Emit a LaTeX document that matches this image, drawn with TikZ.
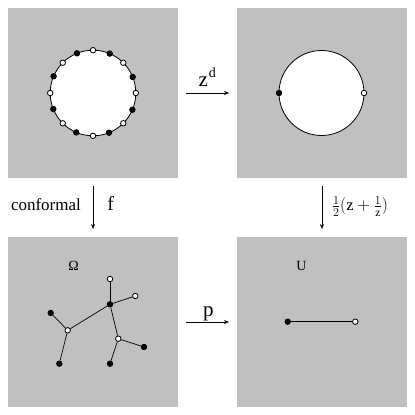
\documentclass[tikz,border=0pt]{standalone}
\usepackage{fontspec}
\setmainfont{Liberation Serif}
\usetikzlibrary{arrows.meta}
\definecolor{panel}{RGB}{192,192,192}
\tikzset{
  panelbox/.style={fill=panel, draw=none, minimum size=170pt, inner sep=0pt, outer sep=0pt},
  disk/.style={circle, draw=black, fill=white, line width=0.8pt, inner sep=0pt, outer sep=0pt},
  opendot/.style={circle, draw=black, fill=white, line width=0.8pt, inner sep=0pt, minimum size=5.5pt},
  fulldot/.style={circle, draw=black, fill=black, line width=0.8pt, inner sep=0pt, minimum size=5.5pt},
  maparrow/.style={-{Stealth[length=5pt,width=4pt]}, line width=0.7pt, shorten <=8pt, shorten >=8pt},
  edge/.style={line width=0.7pt},
  lbl/.style={inner sep=0pt, outer sep=0pt},
  bigfont/.style={font=\fontsize{21}{25}\selectfont},
  midfont/.style={font=\fontsize{17}{20}\selectfont},
  ffont/.style={font=\fontsize{20}{24}\selectfont},
  smallfont/.style={font=\fontsize{14}{16}\selectfont}
}
\begin{document}
\begin{tikzpicture}[x=1pt,y=-1pt]
\useasboundingbox (0,0) rectangle (415,415);
% panels
\node[panelbox] (TL) at (93,93) {};
\node[panelbox] (TR) at (322,93) {};
\node[panelbox] (BL) at (93,322) {};
\node[panelbox] (BR) at (322,322) {};
% top-left circle with 16 points
\node[disk, minimum size=85.6pt] (C1) at (93,93) {};
\foreach \a in {0,45,...,315} {
  \node[opendot] (o\a) at (C1.\a) {};
}
\foreach \a in {22.5,67.5,...,337.5} {
  \node[fulldot] (f\a) at (C1.\a) {};
}
% top-right circle
\node[disk, minimum size=85pt] (C2) at (321.5,93) {};
\node[fulldot] (c2l) at (C2.180) {};
\node[opendot] (c2r) at (C2.0) {};
% tree in Omega
\node[lbl, smallfont] (omega) at (73.7,265.8) {Ω};
\node[opendot] (A) at (110,279) {};
\node[fulldot] (B) at (110,304.3) {};
\node[opendot] (Cc) at (135.3,296) {};
\node[fulldot] (D) at (50.7,313) {};
\node[opendot] (E) at (67.7,330.3) {};
\node[opendot] (F) at (118.3,338.7) {};
\node[fulldot] (G) at (144,347) {};
\node[fulldot] (H) at (59.3,363.7) {};
\node[fulldot] (I) at (110,363.7) {};
\draw[edge] (A) -- (B);
\draw[edge] (B) -- (Cc);
\draw[edge] (B) -- (E);
\draw[edge] (D) -- (E);
\draw[edge] (E) -- (H);
\draw[edge] (B) -- (F);
\draw[edge] (F) -- (G);
\draw[edge] (F) -- (I);
% segment in U
\node[lbl, smallfont] (ulab) at (301.5,265.5) {U};
\node[fulldot] (s1) at (287.7,321.7) {};
\node[opendot] (s2) at (355.3,321.7) {};
\draw[edge] (s1) -- (s2);
% maps
\draw[maparrow] (TL) -- (TR);
\draw[maparrow] (TL) -- (BL);
\draw[maparrow] (TR) -- (BR);
\draw[maparrow] (BL) -- (BR);
\node[lbl, bigfont, anchor=base west] (zd) at (198.5,86.7) {z\kern1pt\raisebox{9pt}{\fontsize{14}{16}\selectfont d}};
\node[lbl, bigfont, anchor=base west] (plab) at (203,316) {p};
\node[lbl, midfont, anchor=base west] (conf) at (11,210.7) {conformal};
\node[lbl, ffont, anchor=base west] (flab) at (107.3,210.7) {f};
\node[lbl, font=\fontsize{16.5}{20}\selectfont] (half) at (360,206.7) {$\frac{1}{2}(\mathrm{z}+\frac{1}{\mathrm{z}})$};
\end{tikzpicture}
\end{document}
